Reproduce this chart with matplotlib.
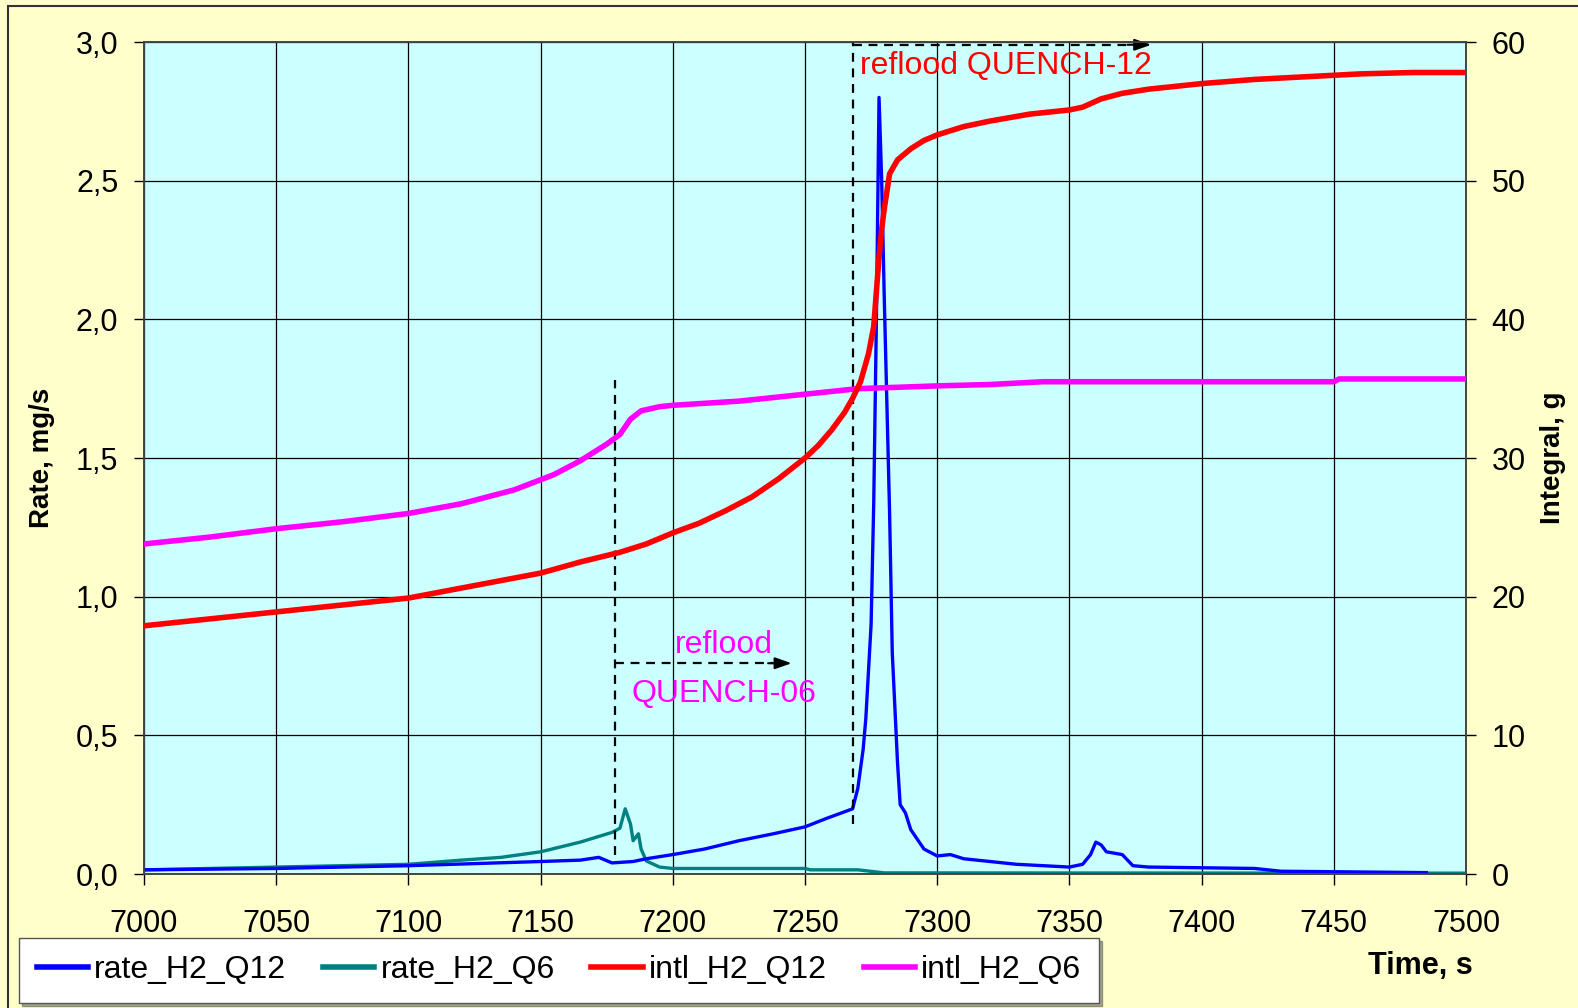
import matplotlib
matplotlib.use("Agg")
import matplotlib.pyplot as plt
from matplotlib.ticker import FuncFormatter, MultipleLocator
from matplotlib.patches import Rectangle

plt.rcParams['font.family'] = ['Liberation Sans', 'DejaVu Sans']

# ---- data ----
t_rate_q12 = [7000, 7050, 7100, 7150, 7165, 7172, 7177, 7185, 7190, 7200, 7212, 7225, 7238, 7250, 7258,
              7268, 7270, 7272, 7273, 7275, 7276, 7277, 7278, 7279, 7280, 7282, 7283, 7285, 7286, 7288,
              7290, 7295, 7300, 7305, 7310, 7320, 7330, 7350, 7355, 7358, 7360, 7362, 7364, 7367, 7370,
              7374, 7380, 7420, 7430, 7485]
v_rate_q12 = [0.015, 0.02, 0.03, 0.045, 0.05, 0.06, 0.04, 0.045, 0.055, 0.07, 0.09, 0.12, 0.145, 0.17, 0.2,
              0.235, 0.31, 0.45, 0.56, 0.9, 1.34, 2.0, 2.8, 2.5, 2.07, 1.3, 0.8, 0.4, 0.25, 0.22,
              0.16, 0.09, 0.065, 0.07, 0.055, 0.045, 0.035, 0.025, 0.035, 0.07, 0.115, 0.105, 0.08, 0.075, 0.07,
              0.03, 0.025, 0.02, 0.01, 0.005]

t_rate_q6 = [7000, 7050, 7100, 7120, 7135, 7150, 7165, 7177, 7180, 7182, 7184, 7185, 7187, 7188, 7190,
             7195, 7200, 7250, 7252, 7270, 7280, 7500]
v_rate_q6 = [0.015, 0.025, 0.035, 0.05, 0.06, 0.08, 0.115, 0.15, 0.165, 0.235, 0.18, 0.12, 0.145, 0.09, 0.047,
             0.025, 0.02, 0.02, 0.015, 0.015, 0.004, 0.003]

t_intl_q12 = [7000, 7020, 7050, 7075, 7100, 7125, 7150, 7165, 7180, 7190, 7200, 7210, 7220, 7230, 7240,
              7250, 7255, 7260, 7265, 7268, 7271, 7274, 7276, 7277, 7278, 7279, 7280, 7282, 7285, 7290,
              7295, 7300, 7310, 7320, 7335, 7350, 7355, 7362, 7370, 7380, 7400, 7420, 7440, 7460, 7480, 7500]
v_intl_q12 = [17.9, 18.3, 18.9, 19.4, 19.9, 20.8, 21.7, 22.5, 23.2, 23.8, 24.6, 25.3, 26.2, 27.2, 28.5,
              30.0, 30.9, 32.0, 33.3, 34.3, 35.5, 37.5, 39.5, 42.0, 44.5, 46.5, 48.0, 50.5, 51.5, 52.3,
              52.9, 53.3, 53.9, 54.3, 54.8, 55.1, 55.3, 55.9, 56.3, 56.6, 57.0, 57.3, 57.5, 57.7, 57.8, 57.8]

t_intl_q6 = [7000, 7025, 7050, 7075, 7100, 7120, 7140, 7155, 7165, 7175, 7180, 7184, 7188, 7195, 7200,
             7225, 7250, 7270, 7300, 7320, 7340, 7450, 7452, 7500]
v_intl_q6 = [23.8, 24.3, 24.9, 25.4, 26.0, 26.7, 27.7, 28.8, 29.8, 31.0, 31.7, 32.8, 33.4, 33.7, 33.8,
             34.1, 34.6, 35.0, 35.2, 35.3, 35.5, 35.5, 35.7, 35.7]

labels = ['rate_H2_Q12', 'rate_H2_Q6', 'intl_H2_Q12', 'intl_H2_Q6']
colors = ['#0000FF', '#008080', '#FF0000', '#FF00FF']

W, H = 1578, 1008
fig = plt.figure(figsize=(W / 100, H / 100), dpi=100, facecolor='#FFFFCC')
fig.patches.append(Rectangle((8 / W, -0.05), 1.2, 1.05 - 6 / H, transform=fig.transFigure,
                             fill=False, edgecolor='#333333', linewidth=1.5))

ax = fig.add_axes([144 / W, 1 - 874 / H, 1322 / W, 832 / H])
ax.set_facecolor('#CCFFFF')
ax2 = ax.twinx()

ax.set_xlim(7000, 7500)
ax.set_ylim(0, 3.0)
ax2.set_ylim(0, 60)
ax.xaxis.set_major_locator(MultipleLocator(50))
ax.yaxis.set_major_locator(MultipleLocator(0.5))
ax2.yaxis.set_major_locator(MultipleLocator(10))
ax.yaxis.set_major_formatter(FuncFormatter(lambda v, p: f"{v:.1f}".replace('.', ',')))
ax.grid(True, color='black', linewidth=0.9)

l1, = ax.plot(t_rate_q12, v_rate_q12, color=colors[0], lw=2.4, zorder=4)
l2, = ax.plot(t_rate_q6, v_rate_q6, color=colors[1], lw=2.4, zorder=3)
l3, = ax2.plot(t_intl_q12, v_intl_q12, color=colors[2], lw=4, zorder=4)
l4, = ax2.plot(t_intl_q6, v_intl_q6, color=colors[3], lw=4, zorder=3)

# reflood markers
dash = dict(color='black', lw=1.6, ls=(0, (4, 3)), zorder=6)
ax.plot([7178, 7178], [0.07, 1.78], **dash)
ax.plot([7178, 7238], [0.76, 0.76], **dash)
ax.annotate('', xy=(7246, 0.76), xytext=(7235, 0.76),
            arrowprops=dict(arrowstyle='-|>,head_length=1.0,head_width=0.35', color='black', lw=1.5), zorder=7)
ax.plot([7268, 7268], [0.18, 2.995], **dash)
ax.plot([7268, 7374], [2.99, 2.99], **dash)
ax.annotate('', xy=(7382, 2.99), xytext=(7371, 2.99),
            arrowprops=dict(arrowstyle='-|>,head_length=1.0,head_width=0.35', color='black', lw=1.5),
            zorder=7, annotation_clip=False)

ax.text(7326, 2.915, 'reflood QUENCH-12', color='#FF0000', fontsize=23, ha='center', va='center', zorder=8)
ax.text(7219.5, 0.825, 'reflood', color='#FF00FF', fontsize=23, ha='center', va='center', zorder=8)
ax.text(7219.5, 0.65, 'QUENCH-06', color='#FF00FF', fontsize=23, ha='center', va='center', zorder=8)

for a in (ax, ax2):
    a.tick_params(axis='y', labelsize=22, length=7.5, width=1, direction='out', pad=11)
    for s in a.spines.values():
        s.set_color('#444444')
        s.set_linewidth(1.2)
ax.tick_params(axis='x', labelsize=22, length=8, width=1, direction='out', pad=17)

ax.set_ylabel('Rate, mg/s', fontsize=20, fontweight='bold')
ax.yaxis.set_label_coords(-0.067, 0.5)
ax2.set_ylabel('Integral, g', fontsize=20, fontweight='bold')
ax2.yaxis.set_label_coords(1.056, 0.5)
fig.text(1420 / W, 1 - 966 / H, 'Time, s', fontsize=22, fontweight='bold', ha='center', va='center')

leg = fig.legend([l1, l2, l3, l4], labels, loc='lower left', bbox_to_anchor=(19 / W, 1 - 1003 / H),
                 ncol=4, fontsize=23, frameon=True, fancybox=False, shadow=True,
                 handlelength=1.6, handletextpad=0.2, columnspacing=1.15, borderpad=0.55, borderaxespad=0)
leg.get_frame().set_edgecolor('#555555')
leg.get_frame().set_facecolor('white')
for ln in leg.get_lines():
    ln.set_linewidth(4)

fig.savefig('out.png', dpi=100, facecolor=fig.get_facecolor())
